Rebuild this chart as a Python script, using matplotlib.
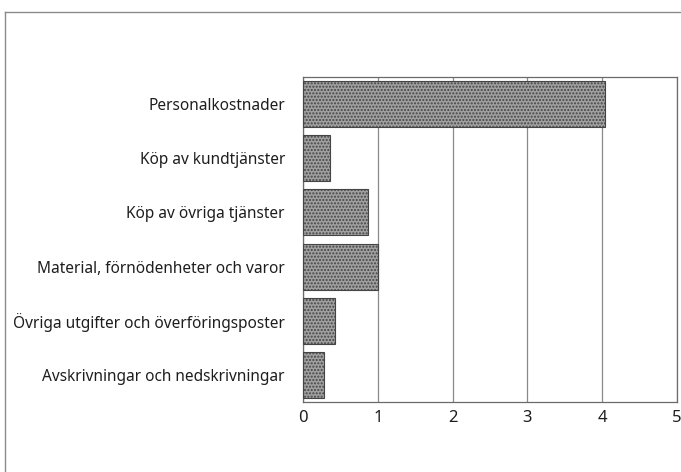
import matplotlib

matplotlib.use('Agg')

import matplotlib.pyplot as plt
from matplotlib.lines import Line2D

categories = [
    'Personalkostnader',
    'Köp av kundtjänster',
    'Köp av övriga tjänster',
    'Material, förnödenheter och varor',
    'Övriga utgifter och överföringsposter',
    'Avskrivningar och nedskrivningar',
]
values = [4.04, 0.36, 0.87, 1.0, 0.43, 0.28]
x_ticks = [0, 1, 2, 3, 4, 5]

plt.rcParams['font.family'] = ['Noto Sans', 'DejaVu Sans']
plt.rcParams['hatch.color'] = '#6e6e6e'

fig = plt.figure(figsize=(6.81, 4.72), dpi=100)
ax = fig.add_axes([0.445, 0.148, 0.549, 0.689])

pos = list(range(len(categories)))
ax.barh(pos, values, height=0.85, color='#a0a0a0', edgecolor='#454545',
        linewidth=0.8, hatch='.....', zorder=3)

ax.set_ylim(len(categories) - 0.5, -0.5)
ax.set_xlim(0, 5)
ax.set_xticks(x_ticks)
ax.set_yticks(pos)
ax.set_yticklabels(categories)
ax.tick_params(axis='both', length=0, colors='#1e1e1e')
ax.tick_params(axis='y', pad=13, labelsize=11.1)
ax.tick_params(axis='x', pad=6, labelsize=12)
ax.grid(True, axis='x', color='#8a8a8a', lw=0.9, zorder=0)
for s in ax.spines.values():
    s.set_color('#6a6a6a')
    s.set_linewidth(0.9)

# outer frame (left and top edges of the original panel)
fig.add_artist(Line2D([0.0073, 0.0073], [0.0, 0.975], color='#8a8a8a', lw=1.0))
fig.add_artist(Line2D([0.0073, 1.0], [0.975, 0.975], color='#8a8a8a', lw=1.0))

fig.savefig('out.png', dpi=100)
